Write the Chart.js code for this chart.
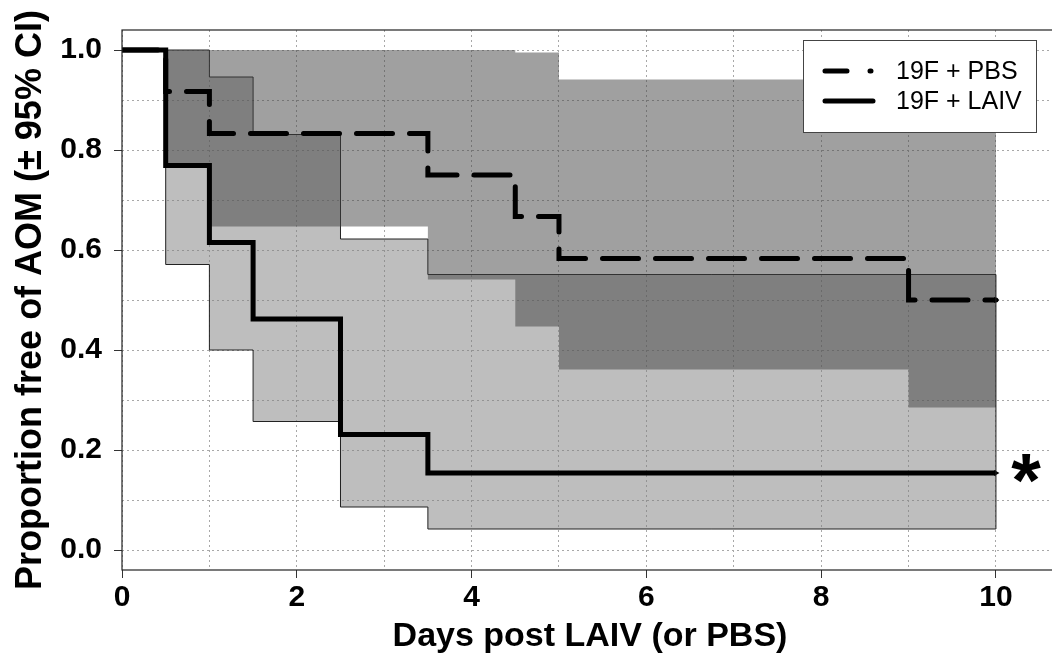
<!DOCTYPE html>
<html>
<head>
<meta charset="utf-8">
<script src="https://cdn.jsdelivr.net/npm/chart.js@4"></script>
<style>
  html, body { margin: 0; padding: 0; background: #fff; overflow: hidden; }
  #wrap { width: 1062px; height: 657px; }
</style>
</head>
<body>
<div id="wrap"><canvas id="kmChart"></canvas></div>
<script>
// Kaplan-Meier curves
const laivDays  = [0, 0.5, 1, 1.5, 2.5, 3.5, 10];
const laivFree  = [1, 0.769, 0.615, 0.462, 0.231, 0.154, 0.154];
const laivUpper = [1, 1, 0.946, 0.831, 0.622, 0.551, 0.551];
const laivLower = [1, 0.571, 0.400, 0.257, 0.086, 0.042, 0.042];

const pbsDays  = [0, 0.5, 1, 3.5, 4.5, 5, 9, 10];
const pbsFree  = [1, 0.917, 0.833, 0.750, 0.667, 0.583, 0.500, 0.500];
const pbsUpper = [1, 1, 1, 1, 0.995, 0.941, 0.941, 0.941];
const pbsLower = [1, 0.765, 0.647, 0.541, 0.447, 0.361, 0.285, 0.285];

// grid positions and which of them carry a label
const xGrid = [0, 1, 2, 3, 4, 5, 6, 7, 8, 9, 10];
const yGrid = [0, 0.1, 0.2, 0.3, 0.4, 0.5, 0.6, 0.7, 0.8, 0.9, 1.0];
const xTickLabels = [0, 2, 4, 6, 8, 10];
const yTickLabels = [0, 0.2, 0.4, 0.6, 0.8, 1.0];

const FONT = "'Liberation Sans', Arial, sans-serif";

function toPoints(xs, ys) {
    return xs.map((x, i) => ({ x: x, y: ys[i] }));
}

function isLabelled(list, v) {
    return list.some(t => Math.abs(t - v) < 1e-6);
}

function lastMark(n) {
    return ctx => ctx.dataIndex === n - 1 ? 3.5 : 0;
}

// frame around the plot, closing edge of the LAIV band, the star
const extrasPlugin = {
    id: 'extras',
    afterDatasetsDraw(chart) {
        const { ctx, chartArea, scales } = chart;
        const x = scales.x, y = scales.y;
        ctx.save();

        // right edge of the LAIV confidence band
        const xe = x.getPixelForValue(laivDays[laivDays.length - 1]);
        ctx.strokeStyle = '#222';
        ctx.lineWidth = 1;
        ctx.beginPath();
        ctx.moveTo(xe, y.getPixelForValue(laivUpper[laivUpper.length - 1]));
        ctx.lineTo(xe, y.getPixelForValue(laivLower[laivLower.length - 1]));
        ctx.stroke();

        ctx.strokeStyle = '#222';
        ctx.lineWidth = 1.2;
        ctx.strokeRect(chartArea.left, chartArea.top, chartArea.right - chartArea.left, chartArea.bottom - chartArea.top);

        // significance star next to the LAIV curve
        ctx.fillStyle = '#000';
        ctx.font = 'bold 76px ' + FONT;
        ctx.textAlign = 'center';
        ctx.textBaseline = 'alphabetic';
        ctx.fillText('*', xe + 30, y.getPixelForValue(laivFree[laivFree.length - 1]) + 33);
        ctx.restore();
    }
};

// boxed legend in the top right corner
const legendPlugin = {
    id: 'boxLegend',
    afterDraw(chart) {
        const { ctx, chartArea } = chart;
        const w = 233, h = 92;
        const left = chartArea.right - 22 - w;
        const top = chartArea.top + 10;
        ctx.save();
        ctx.fillStyle = '#fff';
        ctx.fillRect(left, top, w, h);
        ctx.strokeStyle = '#444';
        ctx.lineWidth = 1;
        ctx.strokeRect(left + 0.5, top + 0.5, w, h);

        const entries = chart.data.datasets.filter(d => d.label);
        entries.forEach((ds, i) => {
            const yy = top + 31 + i * 30;
            const dashed = !!ds.borderDash;
            ctx.strokeStyle = ds.borderColor;
            ctx.lineWidth = ds.borderWidth;
            ctx.lineCap = 'round';
            ctx.setLineDash(dashed ? [22, 23] : []);
            ctx.beginPath();
            ctx.moveTo(left + 22, yy);
            ctx.lineTo(left + (dashed ? 68 : 70), yy);
            ctx.stroke();
            ctx.setLineDash([]);
            ctx.fillStyle = '#000';
            ctx.font = '25px ' + FONT;
            ctx.textAlign = 'left';
            ctx.textBaseline = 'middle';
            ctx.fillText(ds.label, left + 93, yy + 1);
        });
        ctx.restore();
    }
};

function createChart() {
    const ctx = document.getElementById('kmChart').getContext('2d');
    return new Chart(ctx, {
        type: 'line',
        data: {
            datasets: [
                {
                    data: toPoints(laivDays, laivUpper),
                    stepped: true,
                    borderColor: '#222',
                    borderWidth: 1,
                    backgroundColor: 'rgba(125,125,125,0.5)',
                    fill: '+1',
                    pointRadius: 0,
                    order: 6
                },
                {
                    data: toPoints(laivDays, laivLower),
                    stepped: true,
                    borderColor: '#222',
                    borderWidth: 1,
                    fill: false,
                    pointRadius: 0,
                    order: 5
                },
                {
                    data: toPoints(pbsDays, pbsUpper),
                    stepped: true,
                    borderColor: 'rgba(0,0,0,0)',
                    borderWidth: 1,
                    backgroundColor: 'rgba(65,65,65,0.5)',
                    fill: '+1',
                    pointRadius: 0,
                    order: 4
                },
                {
                    data: toPoints(pbsDays, pbsLower),
                    stepped: true,
                    borderColor: 'rgba(0,0,0,0)',
                    borderWidth: 1,
                    fill: false,
                    pointRadius: 0,
                    order: 3
                },
                {
                    label: '19F + PBS',
                    data: toPoints(pbsDays, pbsFree),
                    stepped: true,
                    borderColor: '#000',
                    borderWidth: 5,
                    borderDash: [36, 17],
                    borderCapStyle: 'round',
                    fill: false,
                    pointStyle: 'triangle',
                    rotation: 90,
                    pointRadius: lastMark(pbsDays.length),
                    pointBackgroundColor: '#000',
                    pointBorderWidth: 0,
                    order: 2
                },
                {
                    label: '19F + LAIV',
                    data: toPoints(laivDays, laivFree),
                    stepped: true,
                    borderColor: '#000',
                    borderWidth: 5,
                    fill: false,
                    pointStyle: 'triangle',
                    rotation: 90,
                    pointRadius: lastMark(laivDays.length),
                    pointBackgroundColor: '#000',
                    pointBorderWidth: 0,
                    order: 1
                }
            ]
        },
        options: {
            responsive: true,
            maintainAspectRatio: false,
            animation: false,
            layout: { padding: { left: 0, top: 18, right: 2, bottom: 0 } },
            plugins: {
                legend: { display: false },
                tooltip: { enabled: false },
                filler: { propagate: false }
            },
            scales: {
                x: {
                    type: 'linear',
                    min: 0,
                    max: 10.71,
                    bounds: 'data',
                    afterBuildTicks: scale => { scale.ticks = xGrid.map(v => ({ value: v })); },
                    afterFit: scale => { scale.height = 87; },
                    grid: {
                        color: '#a8a8a8',
                        lineWidth: 1,
                        tickLength: 8,
                        tickWidth: 1,
                        tickBorderDash: [],
                        tickColor: c => isLabelled(xTickLabels, c.tick.value) ? '#333' : 'rgba(0,0,0,0)'
                    },
                    border: { display: false, dash: [2, 3] },
                    ticks: {
                        autoSkip: false,
                        maxRotation: 0,
                        padding: 2,
                        color: '#000',
                        font: { family: FONT, size: 30, weight: 'bold' },
                        callback: v => isLabelled(xTickLabels, v) ? String(v) : ''
                    },
                    title: {
                        display: true,
                        text: 'Days post LAIV (or PBS)',
                        color: '#000',
                        font: { family: FONT, size: 34, weight: 'bold' },
                        padding: { top: 0, bottom: 0 }
                    }
                },
                y: {
                    type: 'linear',
                    min: -0.04,
                    max: 1.04,
                    bounds: 'data',
                    afterBuildTicks: scale => { scale.ticks = yGrid.map(v => ({ value: v })); },
                    afterFit: scale => { scale.width = 122; },
                    grid: {
                        color: '#a8a8a8',
                        lineWidth: 1,
                        tickLength: 8,
                        tickWidth: 1,
                        tickBorderDash: [],
                        tickColor: c => isLabelled(yTickLabels, c.tick.value) ? '#333' : 'rgba(0,0,0,0)'
                    },
                    border: { display: false, dash: [2, 3] },
                    ticks: {
                        autoSkip: false,
                        padding: 12,
                        color: '#000',
                        font: { family: FONT, size: 30, weight: 'bold' },
                        callback: v => isLabelled(yTickLabels, v) ? v.toFixed(1) : ''
                    },
                    title: {
                        display: true,
                        text: 'Proportion free of AOM (\u00b1 95% CI)',
                        color: '#000',
                        font: { family: FONT, size: 36, weight: 'bold' },
                        padding: { top: 9, bottom: 0 }
                    }
                }
            }
        },
        plugins: [extrasPlugin, legendPlugin]
    });
}

createChart();
</script>
</body>
</html>
